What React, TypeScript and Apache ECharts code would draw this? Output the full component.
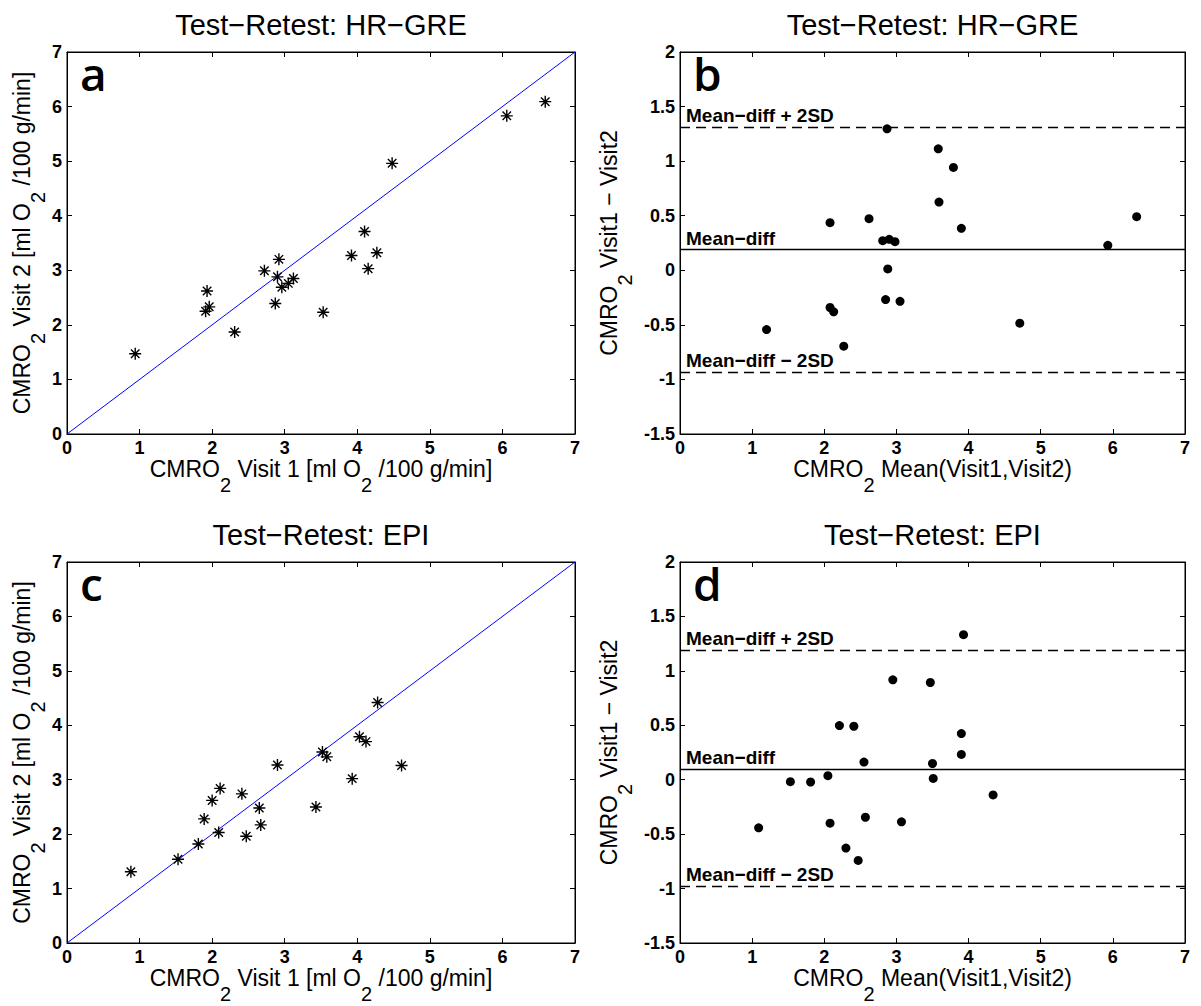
import React, { useEffect, useRef } from "react";
import * as echarts from "echarts";

const FONT = "'Liberation Sans', Arial, Helvetica, sans-serif";
const LETTER_FONT = "'Open Sans', 'Liberation Sans', sans-serif";

const panelTitles = [
  "Test−Retest: HR−GRE",
  "Test−Retest: HR−GRE",
  "Test−Retest: EPI",
  "Test−Retest: EPI",
];
const panelLetters = ["a", "b", "c", "d"];

const visitRange = [0, 7];
const diffRange = [-1.5, 2];
const identityLine = [0, 7];

// HR-GRE
const hrgreVisit1 = [0.94, 1.93, 1.96, 1.91, 2.31, 2.72, 2.92, 2.9, 2.87, 2.96, 3.05, 3.12, 3.53, 3.92, 4.1, 4.27, 4.15, 4.48, 6.06, 6.59];
const hrgreVisit2 = [1.47, 2.62, 2.33, 2.25, 1.87, 2.99, 3.2, 2.88, 2.39, 2.69, 2.76, 2.85, 2.23, 3.27, 3.71, 3.32, 3.03, 4.96, 5.83, 6.09];
const hrgreMean = [1.2, 2.08, 2.62, 2.08, 2.13, 2.27, 2.81, 2.9, 2.98, 2.87, 2.88, 2.85, 3.05, 3.58, 3.79, 3.59, 3.9, 4.71, 5.93, 6.33];
const hrgreDiff = [-0.543, 0.436, 0.473, -0.341, -0.381, -0.695, 0.271, 0.284, 0.262, 1.296, 0.012, -0.268, -0.284, 1.113, 0.942, 0.625, 0.384, -0.485, 0.229, 0.491];
const hrgreLimits = [1.314, 0.192, -0.933];

// EPI
const epiVisit1 = [0.88, 1.53, 1.81, 1.89, 2.0, 2.11, 2.09, 2.41, 2.47, 2.65, 2.67, 2.9, 3.43, 3.52, 3.58, 3.93, 4.03, 4.12, 4.28, 4.61];
const epiVisit2 = [1.31, 1.54, 1.82, 2.28, 2.62, 2.84, 2.03, 2.74, 1.96, 2.48, 2.17, 3.27, 2.5, 3.51, 3.42, 3.02, 3.79, 3.7, 4.42, 3.26];
const epiMean = [1.09, 1.53, 1.81, 2.05, 2.08, 2.21, 2.41, 2.3, 2.47, 2.55, 2.57, 2.95, 3.07, 3.47, 3.5, 3.51, 3.9, 3.9, 3.93, 4.34];
const epiDiff = [-0.442, -0.018, -0.021, 0.037, -0.399, 0.497, 0.491, -0.628, -0.741, 0.162, -0.345, 0.918, -0.387, 0.893, 0.149, 0.012, 0.424, 0.232, 1.332, -0.14];
const epiLimits = [1.186, 0.1, -0.982];

const limitLabels = ["Mean−diff + 2SD", "Mean−diff", "Mean−diff − 2SD"];

const xNameScatter = "{m|CMRO}{s|2}{m| Visit 1 [ml O}{s|2}{m| /100 g/min]}";
const yNameScatter = "{m|CMRO}{s|2}{m| Visit 2 [ml O}{s|2}{m| /100 g/min]}";
const xNameBA = "{m|CMRO}{s|2}{m| Mean(Visit1,Visit2)}";
const yNameBA = "{m|CMRO}{s|2}{m| Visit1 − Visit2}";

const grids = [
  { left: 67, top: 52, width: 508, height: 382 },
  { left: 680, top: 52, width: 505, height: 382 },
  { left: 67, top: 562, width: 508, height: 381 },
  { left: 680, top: 562, width: 505, height: 381 },
];

const ASTERISK = "path://M0,-10L0,10M-10,0L10,0M-7.07,-7.07L7.07,7.07M-7.07,7.07L7.07,-7.07";

const richName = {
  m: { fontFamily: FONT, fontSize: 23, color: "#000" },
  s: { fontFamily: FONT, fontSize: 20, color: "#000", padding: [32, 0, 0, 0] },
};

function zip(a: number[], b: number[]) {
  return a.map((v, i) => [v, b[i]]);
}

export default function App() {
  const ref = useRef<HTMLDivElement>(null);
  useEffect(() => {
    if (!ref.current) return;
    const chart = echarts.init(ref.current, undefined, { renderer: "svg" });

    const axisCommon = (gi: number, range: number[], interval: number) => ({
      type: "value",
      gridIndex: gi,
      min: range[0],
      max: range[1],
      interval,
      splitLine: { show: false },
      axisLine: { show: true, onZero: false, lineStyle: { color: "#000", width: 1 } },
      axisTick: { show: true, inside: true, length: 5, lineStyle: { color: "#000", width: 1 } },
    });
    const labelStyle = {
      show: true,
      color: "#000",
      fontFamily: FONT,
      fontWeight: "bold",
      fontSize: 18,
      margin: 5,
    };

    const xAxis: any[] = [];
    const yAxis: any[] = [];
    grids.forEach((g, i) => {
      const isBA = i % 2 === 1;
      const yRange = isBA ? diffRange : visitRange;
      const yInt = isBA ? 0.5 : 1;
      xAxis.push({
        ...axisCommon(i, visitRange, 1),
        position: "bottom",
        axisLabel: labelStyle,
        name: isBA ? xNameBA : xNameScatter,
        nameLocation: "middle",
        nameGap: 7,
        nameTextStyle: { fontFamily: FONT, fontSize: 23, color: "#000", rich: richName },
      });
      xAxis.push({
        ...axisCommon(i, visitRange, 1),
        position: "top",
        axisLabel: { show: false },
      });
      yAxis.push({
        ...axisCommon(i, yRange, yInt),
        position: "left",
        axisLabel: labelStyle,
        name: isBA ? yNameBA : yNameScatter,
        nameLocation: "middle",
        nameRotate: 90,
        nameGap: isBA ? 45 : 19,
        nameTextStyle: { fontFamily: FONT, fontSize: 23, color: "#000", rich: richName },
      });
      yAxis.push({
        ...axisCommon(i, yRange, yInt),
        position: "right",
        axisLabel: { show: false },
      });
    });

    const scatterSeries = (gi: number, x: number[], y: number[]) => [
      {
        type: "line",
        xAxisIndex: gi * 2,
        yAxisIndex: gi * 2,
        data: identityLine.map((v) => [v, v]),
        symbol: "none",
        lineStyle: { color: "#0000ff", width: 1 },
        silent: true,
        z: 2,
      },
      {
        type: "scatter",
        xAxisIndex: gi * 2,
        yAxisIndex: gi * 2,
        data: zip(x, y),
        symbol: ASTERISK,
        symbolSize: 12,
        itemStyle: { color: "none", borderColor: "#000", borderWidth: 1.4, opacity: 1 },
        z: 3,
      },
    ];

    const baSeries = (gi: number, x: number[], y: number[], limits: number[]) => ({
      type: "scatter",
      xAxisIndex: gi * 2,
      yAxisIndex: gi * 2,
      data: zip(x, y),
      symbol: "circle",
      symbolSize: 9,
      itemStyle: { color: "#000", opacity: 1 },
      z: 3,
      markLine: {
        silent: true,
        symbol: ["none", "none"],
        animation: false,
        data: limits.map((v, k) => ({
          yAxis: v,
          lineStyle: {
            color: "#000",
            width: 1.3,
            type: k === 1 ? "solid" : [10, 6],
          },
          label: {
            show: true,
            formatter: limitLabels[k],
            position: "insideStartTop",
            distance: [6, 2],
            color: "#000",
            fontFamily: FONT,
            fontWeight: "bold",
            fontSize: 19,
          },
        })),
      },
    });

    const option: any = {
      animation: false,
      backgroundColor: "#fff",
      title: panelTitles.map((t, i) => ({
        text: t,
        left: grids[i].left + grids[i].width / 2,
        top: grids[i].top - 42,
        textAlign: "center",
        padding: 0,
        textStyle: { fontFamily: FONT, fontSize: 29, fontWeight: "normal", color: "#000" },
      })),
      grid: grids.map((g) => ({
        ...g,
        show: true,
        borderColor: "#000",
        borderWidth: 1,
        backgroundColor: "#fff",
        containLabel: false,
      })),
      xAxis,
      yAxis,
      series: [
        ...scatterSeries(0, hrgreVisit1, hrgreVisit2),
        baSeries(1, hrgreMean, hrgreDiff, hrgreLimits),
        ...scatterSeries(2, epiVisit1, epiVisit2),
        baSeries(3, epiMean, epiDiff, epiLimits),
      ],
      graphic: panelLetters.map((l, i) => ({
        type: "text",
        x: grids[i].left + 13,
        y: grids[i].top + 21,
        z: 10,
        style: {
          text: l,
          fontFamily: LETTER_FONT,
          fontSize: 46,
          fontWeight: 600,
          fill: "#000",
          verticalAlign: "middle",
        },
      })),
    };
    chart.setOption(option);
    return () => chart.dispose();
  }, []);

  return (
    <div
      ref={ref}
      style={{ position: "fixed", left: 0, top: 0, width: 1201, height: 1006, background: "#fff" }}
    />
  );
}
